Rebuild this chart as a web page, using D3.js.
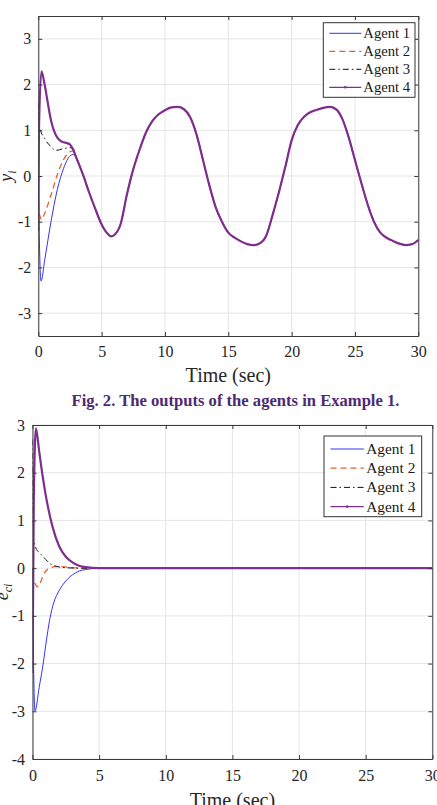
<!DOCTYPE html>
<html>
<head>
<meta charset="utf-8">
<script src="https://cdn.jsdelivr.net/npm/d3@7"></script>
<style>
	body { margin: 0; background: #fff; }
	svg { display: block; }
	text { font-family: 'Liberation Serif', 'Times New Roman', serif; }
</style>
</head>
<body>
<div id="wrapper"></div>
<script>
// ---- data ----
const agentNames = ['Agent 1', 'Agent 2', 'Agent 3', 'Agent 4']
const xTicks = [0, 5, 10, 15, 20, 25, 30]
const yTicksTop = [-3, -2, -1, 0, 1, 2, 3]
const yTicksBottom = [-4, -3, -2, -1, 0, 1, 2, 3]

// top panel: common trajectory once the agents have synchronised
const timeShared = [3, 3.5, 4, 4.5, 5, 5.5, 5.75, 6, 6.5, 7, 7.5, 8, 8.5, 9, 9.5, 10, 10.5, 11, 11.5, 12,
	12.5, 13, 13.5, 14, 14.5, 15, 15.5, 16, 16.5, 17, 17.5, 18, 18.5, 19, 19.5, 20, 20.5, 21, 21.5, 22,
	22.5, 23, 23.5, 24, 24.5, 25, 25.5, 26, 26.5, 27, 27.5, 28, 28.5, 29, 29.5, 30]
const outShared = [0.40, 0.05, -0.35, -0.72, -1.06, -1.27, -1.32, -1.29, -1.05, -0.4, 0.15, 0.58, 0.95, 1.2, 1.35, 1.44, 1.5, 1.51, 1.46, 1.28,
	0.9, 0.35, -0.2, -0.68, -1.0, -1.24, -1.35, -1.43, -1.49, -1.51, -1.47, -1.3, -0.85, -0.35, 0.2, 0.78, 1.12, 1.3, 1.4, 1.45,
	1.49, 1.51, 1.46, 1.25, 0.85, 0.35, -0.15, -0.62, -1.0, -1.24, -1.35, -1.42, -1.48, -1.51, -1.49, -1.4]

// top panel: start-up transients
const timeOut1 = [0, 0.1, 0.22, 0.5, 1.0, 1.5, 2.0, 2.5, 2.75]
const out1 = [0, -1.6, -2.3, -1.85, -1.0, -0.3, 0.17, 0.44, 0.47]
const timeOut2 = [0, 0.1, 0.27, 0.5, 1.0, 1.5, 2.0, 2.5, 2.75]
const out2 = [-0.6, -0.85, -0.95, -0.82, -0.42, 0.03, 0.36, 0.53, 0.55]
const timeOut3 = [0, 0.08, 0.15, 0.5, 1.0, 1.4, 2.0, 2.5, 2.75]
const out3 = [1.6, 1.1, 1.02, 0.82, 0.64, 0.56, 0.6, 0.62, 0.6]
const timeOut4 = [0, 0.05, 0.25, 0.5, 0.75, 1.0, 1.25, 1.5, 1.75, 2.0, 2.25, 2.5, 2.75]
const out4 = [-1.2, 1.0, 2.29, 2.0, 1.6, 1.22, 0.98, 0.84, 0.77, 0.74, 0.72, 0.69, 0.58]

// bottom panel: errors
const timeErr1 = [0, 0.08, 0.19, 0.5, 0.81, 1.0, 1.31, 1.6, 2.0, 2.5, 3.0, 3.5, 4.0, 5.0, 30]
const err1 = [0, -2.0, -2.99, -2.5, -1.99, -1.6, -1.05, -0.72, -0.47, -0.27, -0.14, -0.06, -0.03, 0, 0]
const timeErr2 = [0, 0.15, 0.42, 0.6, 0.8, 1.0, 1.3, 1.7, 2.2, 3.0, 4.0, 30]
const err2 = [-0.1, -0.3, -0.39, -0.3, -0.15, -0.06, 0.0, 0.03, 0.03, 0.01, 0, 0]
const timeErr3 = [0, 0.08, 0.25, 0.5, 0.8, 1.3, 1.9, 2.5, 3.5, 30]
const err3 = [2.7, 0.6, 0.42, 0.33, 0.24, 0.1, 0.03, 0.01, 0, 0]
const timeErr4 = [0, 0.1, 0.26, 0.5, 0.75, 1.0, 1.5, 2.0, 2.5, 3.0, 3.5, 4.0, 5.0, 30]
const err4 = [-2.2, 1.5, 2.93, 2.45, 1.95, 1.52, 0.87, 0.46, 0.24, 0.12, 0.05, 0.02, 0, 0]

function drawPlots() {
	const zip = (ts, vs) => ts.map((t, i) => ({ t: t, v: vs[i] }))
	const withShared = (ts, vs) => zip(ts, vs).concat(zip(timeShared, outShared))

	const outputs = [
		withShared(timeOut1, out1),
		withShared(timeOut2, out2),
		withShared(timeOut3, out3),
		withShared(timeOut4, out4)
	]
	const errors = [
		zip(timeErr1, err1),
		zip(timeErr2, err2),
		zip(timeErr3, err3),
		zip(timeErr4, err4)
	]

	const styles = [
		{ color: '#3434f2', width: 1, dash: null },
		{ color: '#e0642c', width: 1.3, dash: '6,4' },
		{ color: '#111', width: 1, dash: '6,3,1.5,3' },
		{ color: '#7e2f8e', width: 2.2, dash: null }
	]

	const xAccessor = d => d.t
	const yAccessor = d => d.v
	const serif = "'Liberation Serif', 'Times New Roman', serif"
	const plainNum = d => String(d)

	const wrapper = d3.select('#wrapper')
		.append('svg')
			.attr('width', 437)
			.attr('height', 805)

	function panel(opts) {
		const dims = opts.dims
		const bounds = wrapper.append('g')
			.attr('transform', `translate(${dims.left}, ${dims.top})`)

		const xScale = d3.scaleLinear()
			.domain([0, 30])
			.range([0, dims.width])
		const yScale = d3.scaleLinear()
			.domain(opts.yDomain)
			.range([dims.height, 0])

		// grid
		bounds.append('g').selectAll('line')
			.data(xTicks)
			.join('line')
				.attr('x1', d => xScale(d)).attr('x2', d => xScale(d))
				.attr('y1', 0).attr('y2', dims.height)
				.attr('stroke', '#e5e5e5')
		bounds.append('g').selectAll('line')
			.data(opts.yTicks)
			.join('line')
				.attr('y1', d => yScale(d)).attr('y2', d => yScale(d))
				.attr('x1', 0).attr('x2', dims.width)
				.attr('stroke', '#e5e5e5')

		// curves
		const clipId = 'clip' + opts.id
		bounds.append('clipPath').attr('id', clipId)
			.append('rect')
				.attr('width', dims.width)
				.attr('height', dims.height)

		const lineGen = d3.line()
			.x(d => xScale(xAccessor(d)))
			.y(d => yScale(yAccessor(d)))
			.curve(d3.curveMonotoneX)

		bounds.append('g')
			.attr('clip-path', `url(#${clipId})`)
			.selectAll('path')
			.data(opts.series)
			.join('path')
				.attr('d', lineGen)
				.attr('fill', 'none')
				.attr('stroke', (d, i) => styles[i].color)
				.attr('stroke-width', (d, i) => styles[i].width)
				.attr('stroke-dasharray', (d, i) => styles[i].dash)
				.attr('stroke-linejoin', 'round')

		// axes, matlab style box with inward ticks
		const axisColor = '#3a3a3a'
		const styleAxis = g => {
			g.attr('font-family', serif).attr('font-size', 16)
			g.select('.domain').attr('stroke', axisColor)
			g.selectAll('.tick line').attr('stroke', axisColor)
			g.selectAll('text').attr('fill', '#262626')
		}

		bounds.append('g')
			.attr('transform', `translate(0, ${dims.height})`)
			.call(d3.axisBottom(xScale).tickValues(xTicks).tickFormat(plainNum)
				.tickSizeInner(-4).tickSizeOuter(0).tickPadding(opts.xPad))
			.call(styleAxis)
		bounds.append('g')
			.call(d3.axisTop(xScale).tickValues(xTicks).tickSizeInner(-4).tickSizeOuter(0).tickFormat(''))
			.call(styleAxis)
		bounds.append('g')
			.call(d3.axisLeft(yScale).tickValues(opts.yTicks).tickFormat(plainNum)
				.tickSizeInner(-4).tickSizeOuter(0).tickPadding(opts.yPad))
			.call(styleAxis)
		bounds.append('g')
			.attr('transform', `translate(${dims.width}, 0)`)
			.call(d3.axisRight(yScale).tickValues(opts.yTicks).tickSizeInner(-4).tickSizeOuter(0).tickFormat(''))
			.call(styleAxis)

		// axis labels
		bounds.append('text')
			.attr('x', dims.width / 2)
			.attr('y', opts.xLabelY)
			.attr('text-anchor', 'middle')
			.attr('fill', '#262626')
			.style('font-size', '20px')
			.text('Time (sec)')

		const yLab = bounds.append('text')
			.attr('transform', `translate(${opts.yLabelX}, ${dims.height / 2}) rotate(-90)`)
			.attr('text-anchor', 'middle')
			.attr('fill', '#262626')
			.style('font-size', '18px')
			.style('font-style', 'italic')
		yLab.append('tspan').text(opts.yLabel[0])
		yLab.append('tspan')
			.attr('dy', 4)
			.style('font-size', '12px')
			.text(opts.yLabel[1])

		// legend
		const lg = opts.legend
		const legend = bounds.append('g')
			.attr('transform', `translate(${lg.x}, ${lg.y})`)
		legend.append('rect')
			.attr('width', lg.w)
			.attr('height', lg.h)
			.attr('fill', '#fff')
			.attr('stroke', '#333')
			.attr('stroke-width', 1)
		const rows = legend.selectAll('g')
			.data(agentNames)
			.join('g')
				.attr('transform', (d, i) => `translate(0, ${lg.first + i * lg.step})`)
		rows.append('line')
			.attr('x1', lg.lineX0).attr('x2', lg.lineX1)
			.attr('stroke', (d, i) => styles[i].color)
			.attr('stroke-width', (d, i) => Math.min(styles[i].width, 1.2))
			.attr('stroke-dasharray', (d, i) => styles[i].dash)
		rows.filter((d, i) => i === 3).append('circle')
			.attr('cx', (lg.lineX0 + lg.lineX1) / 2)
			.attr('r', 1.3)
			.attr('fill', styles[3].color)
		rows.append('text')
			.attr('x', lg.textX)
			.attr('dy', '0.33em')
			.attr('fill', '#1a1a1a')
			.style('font-size', lg.font)
			.text(d => d)
	}

	panel({
		id: 'top',
		dims: { left: 38.3, top: 16, width: 380, height: 320 },
		yDomain: [-3.5, 3.5],
		yTicks: yTicksTop,
		series: outputs,
		xPad: 10,
		yPad: 7,
		xLabelY: 365.7,
		yLabelX: -26.5,
		yLabel: ['y', 'i'],
		legend: { x: 285, y: 6.7, w: 91.7, h: 74.6, first: 10.6, step: 18, lineX0: 6, lineX1: 38, textX: 40, font: '14.7px' }
	})

	panel({
		id: 'bottom',
		dims: { left: 32.5, top: 425, width: 399.8, height: 334 },
		yDomain: [-4, 3],
		yTicks: yTicksBottom,
		series: errors,
		xPad: 11,
		yPad: 7.5,
		xLabelY: 382,
		yLabelX: -24.5,
		yLabel: ['e', 'ci'],
		legend: { x: 291.5, y: 11, w: 97.7, h: 80.7, first: 13, step: 19.2, lineX0: 6.5, lineX1: 39.8, textX: 42.2, font: '15.4px' }
	})

	// caption
	wrapper.append('text')
		.attr('x', 235.5)
		.attr('y', 406.3)
		.attr('text-anchor', 'middle')
		.attr('fill', '#4e2a72')
		.style('font-size', '16.6px')
		.style('font-weight', 'bold')
		.text('Fig. 2. The outputs of the agents in Example 1.')
}
drawPlots()
</script>
</body>
</html>
